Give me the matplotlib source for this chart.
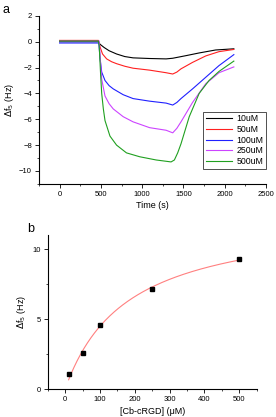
import numpy as np
import matplotlib
matplotlib.use('Agg')
import matplotlib.pyplot as plt
from matplotlib.ticker import MultipleLocator

plt.rcParams['font.family'] = ['Liberation Sans', 'DejaVu Sans']

# Panel a: frequency shift vs time
t_10 = [0, 470, 490, 540, 600, 690, 790, 890, 1090, 1290, 1370, 1450, 1530, 1690, 1890, 2110]
f_10 = [0.0, 0.0, -0.2, -0.45, -0.7, -0.95, -1.15, -1.25, -1.3, -1.33, -1.28, -1.18, -1.08, -0.87, -0.64, -0.55]
t_50 = [0, 470, 490, 520, 570, 630, 690, 790, 890, 1090, 1290, 1370, 1420, 1470, 1610, 1770, 1930, 2110]
f_50 = [0.1, 0.1, -0.4, -0.95, -1.33, -1.55, -1.7, -1.9, -2.05, -2.2, -2.4, -2.5, -2.35, -2.1, -1.6, -1.1, -0.77, -0.6]
t_100 = [0, 475, 490, 510, 550, 600, 650, 770, 890, 1090, 1290, 1370, 1420, 1470, 1610, 1770, 1930, 2110]
f_100 = [-0.1, -0.1, -1.3, -2.35, -3.0, -3.4, -3.65, -4.1, -4.4, -4.6, -4.75, -4.9, -4.7, -4.4, -3.65, -2.75, -1.85, -1.0]
t_250 = [0, 480, 495, 510, 550, 600, 650, 770, 890, 1090, 1290, 1370, 1420, 1470, 1610, 1770, 1930, 2110]
f_250 = [0.05, 0.05, -1.5, -2.9, -4.2, -4.8, -5.2, -5.8, -6.2, -6.65, -6.85, -7.05, -6.7, -6.2, -4.7, -3.25, -2.4, -1.95]
t_500 = [0, 470, 480, 495, 510, 530, 550, 610, 690, 810, 970, 1170, 1350, 1390, 1430, 1470, 1570, 1690, 1810, 1930, 2110]
f_500 = [0.05, 0.05, -0.3, -2.3, -4.0, -5.2, -6.1, -7.3, -8.0, -8.6, -8.9, -9.15, -9.3, -9.15, -8.6, -7.9, -5.8, -4.0, -3.0, -2.3, -1.5]
labels_a = ['10uM', '50uM', '100uM', '250uM', '500uM']
colors_a = ['black', '#ff2020', '#2020ff', '#cc44ff', '#20a020']

# Panel b: saturation response
conc = [10, 50, 100, 250, 500]
shift = [1.05, 2.6, 4.6, 7.15, 9.3]

fig = plt.figure(figsize=(2.76, 4.17), dpi=100)

ax1 = fig.add_axes([0.141, 0.559, 0.823, 0.403])
series = [(t_10, f_10), (t_50, f_50), (t_100, f_100), (t_250, f_250), (t_500, f_500)]
for (t, f), lab, c in zip(series, labels_a, colors_a):
    ax1.plot(t, f, color=c, lw=0.8, label=lab)
ax1.set_xlim(-250, 2500)
ax1.set_ylim(-11, 2)
ax1.xaxis.set_major_locator(MultipleLocator(500))
ax1.xaxis.set_minor_locator(MultipleLocator(250))
ax1.yaxis.set_major_locator(MultipleLocator(2))
ax1.yaxis.set_minor_locator(MultipleLocator(1))
ax1.set_xlabel('Time (s)', fontsize=6.5, labelpad=2)
ax1.set_ylabel(r'$\Delta$f$_5$ (Hz)', fontsize=6.5, labelpad=2)
leg = ax1.legend(loc='lower right', bbox_to_anchor=(1.0, 0.09), fontsize=6.3,
                 frameon=True, fancybox=False, edgecolor='black', handlelength=3.0,
                 borderpad=0.3, labelspacing=0.2, handletextpad=0.5, borderaxespad=0)
leg.get_frame().set_linewidth(0.6)
ax1.text(-0.159, 1.0, 'a', transform=ax1.transAxes, fontsize=9, va='bottom')

# Langmuir fit of the points (least squares over Kd)
x = np.array(conc, float)
y = np.array(shift, float)
best = None
for kd in np.linspace(20, 600, 2000):
    g = x / (kd + x)
    bmax = (g @ y) / (g @ g)
    err = ((bmax * g - y) ** 2).sum()
    if best is None or err < best[0]:
        best = (err, kd, bmax)
_, kd, bmax = best
xf = np.linspace(10, 500, 200)

ax2 = fig.add_axes([0.173, 0.067, 0.757, 0.369])
ax2.plot(xf, bmax * xf / (kd + xf), color='#ff8080', lw=0.8)
ax2.plot(conc, shift, 's', color='black', ms=3)
ax2.set_xlim(-50, 550)
ax2.set_ylim(0, 11)
ax2.xaxis.set_major_locator(MultipleLocator(100))
ax2.xaxis.set_minor_locator(MultipleLocator(50))
ax2.yaxis.set_major_locator(MultipleLocator(5))
ax2.yaxis.set_minor_locator(MultipleLocator(2.5))
ax2.set_xlabel('[Cb-cRGD] (μM)', fontsize=6.5, labelpad=3)
ax2.set_ylabel(r'$\Delta$f$_5$ (Hz)', fontsize=6.5, labelpad=3)
ax2.text(-0.099, 1.0, 'b', transform=ax2.transAxes, fontsize=9, va='bottom')

for ax in (ax1, ax2):
    for s in ('top', 'right'):
        ax.spines[s].set_visible(False)
    for s in ('left', 'bottom'):
        ax.spines[s].set_linewidth(0.8)
    ax.tick_params(which='major', direction='out', length=3, width=0.6, labelsize=5.5, pad=2)
    ax.tick_params(which='minor', direction='out', length=1.5, width=0.5)

fig.savefig('out.png', dpi=100)
